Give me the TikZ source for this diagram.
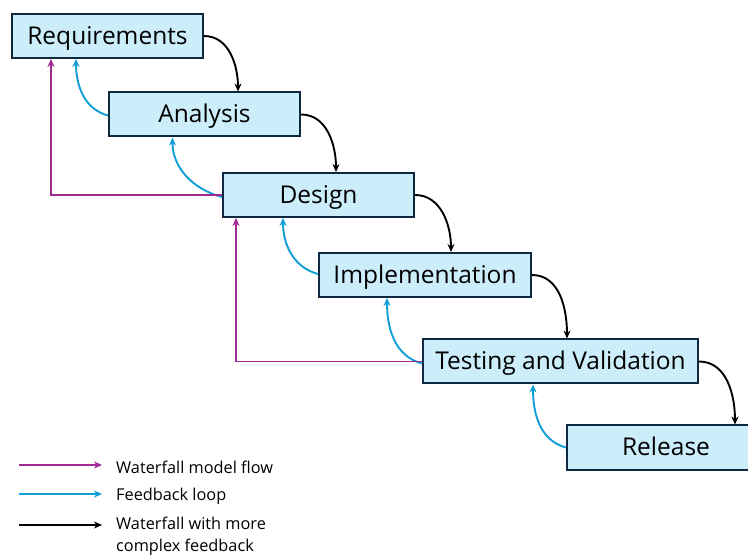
\documentclass[tikz,border=0pt]{standalone}
\usepackage{fontspec}
\setmainfont{Open Sans}
\usetikzlibrary{arrows.meta}

\definecolor{boxfill}{HTML}{CCEDFA}
\definecolor{boxline}{HTML}{0E2841}
\definecolor{flowmag}{HTML}{A02B93}
\definecolor{loopblue}{HTML}{0F9ED5}

\tikzset{
  phase/.style={draw=boxline, fill=boxfill, line width=2pt, minimum height=44pt,
    inner sep=0pt, text height=17pt, text depth=0pt, font=\fontsize{24.5}{26}\selectfont},
  flow/.style={draw=flowmag, line width=1.9pt, -{Stealth[length=8pt,width=7pt]}},
  fback/.style={draw=loopblue, line width=1.9pt, -{Stealth[length=8pt,width=7pt]}},
  cascade/.style={draw=black, line width=1.9pt, -{Stealth[length=8pt,width=7pt]}},
  legtext/.style={anchor=west, inner sep=0pt, font=\fontsize{16.3}{21.5}\selectfont}
}

\begin{document}
\begin{tikzpicture}[x=1pt,y=-1pt]
\useasboundingbox (0,0) rectangle (748,556);

% phases
\node[phase, minimum width=191pt] (req) at (107.5,36) {Requirements};
\node[phase, minimum width=191pt] (ana) at (204.5,114.5) {Analysis};
\node[phase, minimum width=191pt] (des) at (318.5,195) {Design};
\node[phase, minimum width=212pt] (imp) at (425,275) {Implementation};
\node[phase, minimum width=275pt] (tst) at (560.5,361.5) {Testing and Validation};
\node[phase, minimum width=198pt] (rel) at (666,447.5) {Release};

% black: down the cascade
\draw[cascade] (req.east) to[out=0,in=90] ([xshift=-63pt]ana.north east);
\draw[cascade] (ana.east) to[out=0,in=90] ([xshift=-79pt]des.north east);
\draw[cascade] (des.east) to[out=0,in=90] ([xshift=-81pt]imp.north east);
\draw[cascade] (imp.east) to[out=0,in=90] ([xshift=-132pt]tst.north east);
\draw[cascade] (tst.east) to[out=0,in=90] ([xshift=-31pt]rel.north east);

% blue: feedback to the phase above
\draw[fback] ([yshift=-1pt]ana.west) to[out=165,in=-90] ([xshift=65pt]req.south west);
\draw[fback] ([yshift=-2pt]des.west) to[out=165,in=-90] ([xshift=-32pt]ana.south);
\draw[fback] ([yshift=1pt]imp.west) to[out=165,in=-90] ([xshift=61pt]des.south west);
\draw[fback] ([yshift=-2pt]tst.west) to[out=165,in=-90] ([xshift=69pt]imp.south west);
\draw[fback] (rel.west) to[out=165,in=-90] ([xshift=111pt]tst.south west);

% magenta: long returns
\draw[flow] (des.west) -| ([xshift=40pt]req.south west);
\draw[flow] (tst.west) -| ([xshift=14pt]des.south west);

% legend
\coordinate (m0) at (19,465);
\coordinate (m1) at (102,465);
\coordinate (b0) at (19,494);
\coordinate (b1) at (102,494);
\coordinate (k0) at (19,525);
\coordinate (k1) at (102,525);
\draw[flow] (m0) -- (m1);
\draw[fback] (b0) -- (b1);
\draw[cascade] (k0) -- (k1);
\node[legtext] (lm) at (116,467) {Waterfall model flow};
\node[legtext] (lb) at (116,496.5) {Feedback loop};
\node[legtext, anchor=north west, align=left] (lk) at (116,517) {Waterfall with more\\complex feedback};
\end{tikzpicture}
\end{document}
